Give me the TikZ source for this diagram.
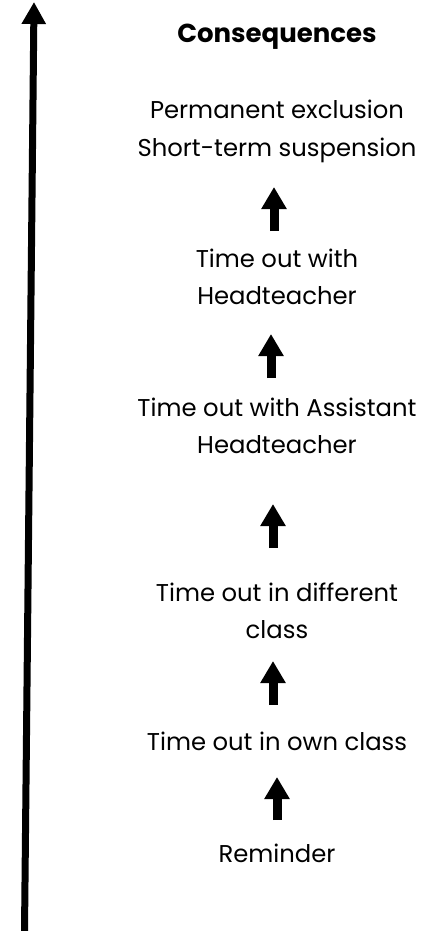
\documentclass[tikz,border=0pt]{standalone}
\usepackage{fontspec}
\setmainfont{Poppins}
\usetikzlibrary{arrows.meta}
\begin{document}
\begin{tikzpicture}[x=1pt,y=-1pt,
  lbl/.style={inner sep=0pt, align=center, font=\fontsize{24.3}{37}\selectfont, anchor=base},
  ttl/.style={inner sep=0pt, font=\fontsize{26}{37}\selectfont\bfseries, anchor=base},
  uparrow/.style={line width=9pt, -{Triangle[width=24pt,length=22pt]}},
  axisarrow/.style={line width=7pt, -{Triangle[width=23pt,length=22pt]}}]
\useasboundingbox (0,0) rectangle (439,931);
% axis
\coordinate (axB) at (24.5,931);
\coordinate (axT) at (34,2);
\draw[axisarrow] (axB) -- (axT);
% texts (anchor = baseline of last line)
\node[ttl] (title) at (277,43) {Consequences};
\node[lbl] (excl) at (277,156) {Permanent exclusion\\Short-term suspension};
\node[lbl] (head) at (277,304) {Time out with\\Headteacher};
\node[lbl] (assist) at (277,453) {Time out with Assistant\\Headteacher};
\node[lbl] (diff) at (277,638) {Time out in different\\class};
\node[lbl] (own) at (277,750) {Time out in own class};
\node[lbl] (rem) at (277,862) {Reminder};
% step arrows
\coordinate (a1s) at (274,231); \coordinate (a1e) at (274,187);
\coordinate (a2s) at (271,378); \coordinate (a2e) at (271,334);
\coordinate (a3s) at (273,548); \coordinate (a3e) at (273,504);
\coordinate (a4s) at (273,705); \coordinate (a4e) at (273,661);
\coordinate (a5s) at (277,820); \coordinate (a5e) at (277,777);
\draw[uparrow] (a1s) -- (a1e);
\draw[uparrow] (a2s) -- (a2e);
\draw[uparrow] (a3s) -- (a3e);
\draw[uparrow] (a4s) -- (a4e);
\draw[uparrow] (a5s) -- (a5e);
\end{tikzpicture}
\end{document}
